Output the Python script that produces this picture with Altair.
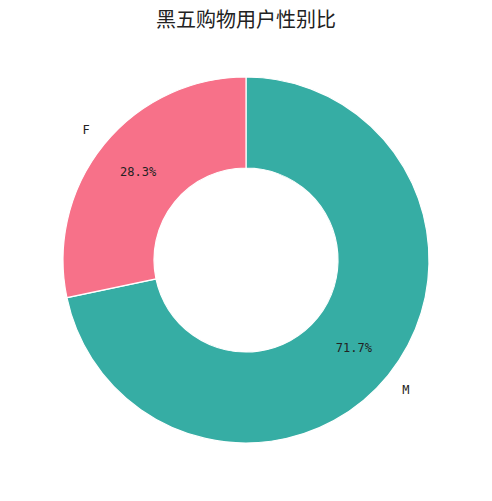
import altair as alt
import pandas as pd

genders = ["M", "F"]
shares = [71.7, 28.3]
pct_labels = ["71.7%", "28.3%"]
colors = ["#36ada4", "#f77189"]
order_idx = [0, 1]

df = pd.DataFrame({"gender": genders, "share": shares, "pct": pct_labels, "ord": order_idx})

base = alt.Chart(df).encode(
    theta=alt.Theta("share:Q", stack=True),
    order=alt.Order("ord:Q"),
)

arc = base.mark_arc(outerRadius=183, innerRadius=92, stroke="white", strokeWidth=1.2).encode(
    color=alt.Color("gender:N", scale=alt.Scale(domain=genders, range=colors), legend=None)
)

pct = base.mark_text(radius=139, font="DejaVu Sans Mono", fontSize=12, color="#222").encode(
    text="pct:N"
)

cat = base.mark_text(radius=206, font="DejaVu Sans Mono", fontSize=12, color="#222").encode(
    text="gender:N"
)

chart = alt.layer(arc, pct, cat).properties(
    width=476,
    height=424,
    title=alt.TitleParams("黑五购物用户性别比", font="Noto Sans CJK SC", fontSize=20,
                          fontWeight="normal", color="#222", offset=17, anchor="middle"),
    autosize=alt.AutoSizeParams(type="none"),
    padding={"left": 0, "top": 40, "right": 0, "bottom": 0},
).configure_view(stroke=None)

chart.save("out.html", embed_options={"renderer": "svg", "actions": False})
